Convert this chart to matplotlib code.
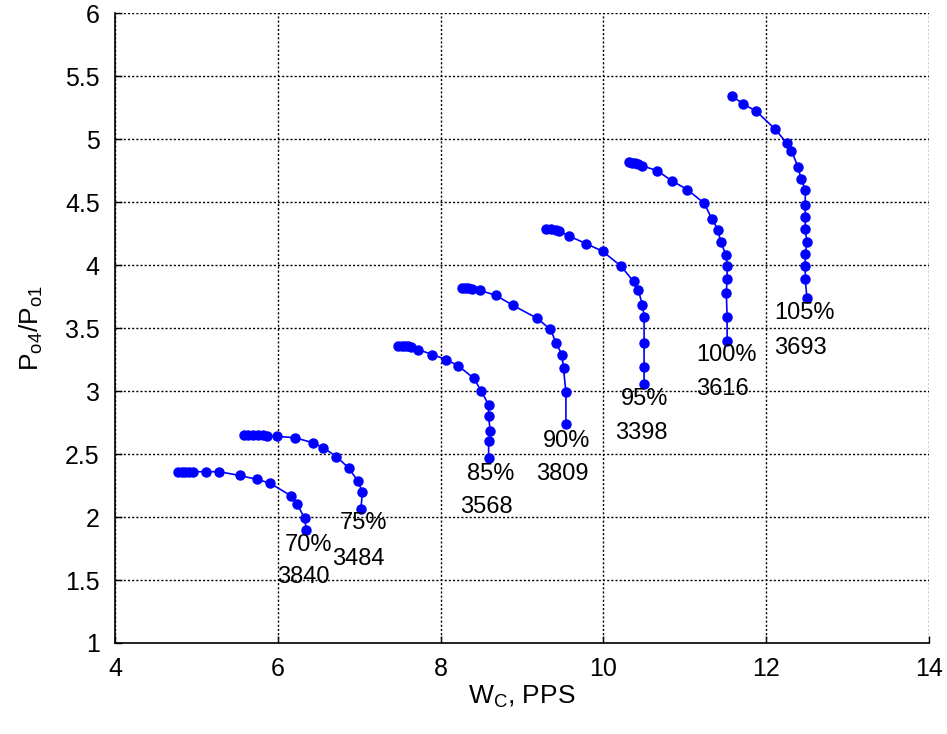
import matplotlib
matplotlib.use('Agg')
import matplotlib.pyplot as plt

plt.rcParams['font.family'] = ['Liberation Sans', 'DejaVu Sans']
plt.rcParams['mathtext.fontset'] = 'custom'
plt.rcParams['mathtext.rm'] = 'Liberation Sans'

# speed lines: corrected flow (W_C, PPS) vs total pressure ratio
w70 = [4.78, 4.82, 4.86, 4.91, 4.96, 5.12, 5.28, 5.53, 5.74, 5.90, 6.16, 6.24, 6.33, 6.35]
p70 = [2.36, 2.36, 2.36, 2.36, 2.36, 2.36, 2.36, 2.33, 2.30, 2.27, 2.17, 2.10, 1.99, 1.90]

w75 = [5.58, 5.64, 5.70, 5.76, 5.82, 5.87, 5.99, 6.21, 6.43, 6.56, 6.72, 6.87, 6.98, 7.04, 7.02]
p75 = [2.655, 2.655, 2.655, 2.655, 2.65, 2.645, 2.64, 2.63, 2.59, 2.55, 2.48, 2.39, 2.29, 2.20, 2.06]

w85 = [7.48, 7.52, 7.56, 7.60, 7.64, 7.72, 7.90, 8.07, 8.22, 8.41, 8.50, 8.59, 8.59, 8.61, 8.59, 8.59]
p85 = [3.355, 3.355, 3.355, 3.355, 3.35, 3.33, 3.29, 3.25, 3.20, 3.10, 3.00, 2.89, 2.80, 2.68, 2.60, 2.47]

w90 = [8.26, 8.30, 8.34, 8.38, 8.48, 8.68, 8.89, 9.18, 9.35, 9.42, 9.49, 9.51, 9.54, 9.54]
p90 = [3.815, 3.815, 3.815, 3.81, 3.80, 3.76, 3.68, 3.58, 3.49, 3.38, 3.29, 3.18, 2.99, 2.74]

w95 = [9.30, 9.36, 9.42, 9.46, 9.58, 9.79, 9.99, 10.22, 10.37, 10.43, 10.48, 10.50, 10.50, 10.50, 10.50]
p95 = [4.29, 4.29, 4.28, 4.27, 4.23, 4.17, 4.11, 3.99, 3.87, 3.80, 3.68, 3.59, 3.38, 3.19, 3.06]

w100 = [10.31, 10.35, 10.39, 10.43, 10.47, 10.66, 10.84, 11.03, 11.24, 11.33, 11.41, 11.44,
        11.51, 11.52, 11.52, 11.51, 11.52, 11.52]
p100 = [4.82, 4.81, 4.81, 4.80, 4.79, 4.75, 4.67, 4.60, 4.49, 4.37, 4.28, 4.18,
        4.08, 3.99, 3.89, 3.78, 3.59, 3.40]

w105 = [11.58, 11.72, 11.88, 12.11, 12.25, 12.31, 12.39, 12.43, 12.48, 12.48, 12.48, 12.48,
        12.50, 12.48, 12.48, 12.48, 12.50]
p105 = [5.34, 5.28, 5.22, 5.08, 4.97, 4.91, 4.78, 4.68, 4.60, 4.48, 4.38, 4.29,
        4.18, 4.09, 3.99, 3.89, 3.74]

speed_labels = ['70%', '75%', '85%', '90%', '95%', '100%', '105%']
rpm_labels = ['3840', '3484', '3568', '3809', '3398', '3616', '3693']

# where the two annotations of each line sit (centre of text)
pct_pos = [(6.38, 1.78), (7.05, 1.95), (8.62, 2.34), (9.55, 2.60),
           (10.51, 2.94), (11.51, 3.29), (12.47, 3.62)]
rpm_pos = [(6.31, 1.52), (6.99, 1.67), (8.56, 2.08), (9.49, 2.34),
           (10.46, 2.67), (11.46, 3.02), (12.42, 3.34)]

lines = [(w70, p70), (w75, p75), (w85, p85), (w90, p90),
         (w95, p95), (w100, p100), (w105, p105)]

fig = plt.figure(figsize=(9.47, 7.34), dpi=100)
ax = fig.add_axes([0.1214, 0.124, 0.8596, 0.858])

for w, p in lines:
    ax.plot(w, p, '-o', color='#0000ff', lw=1.2, ms=6.5, mec='#0000ff', zorder=3)

for lab, pos in zip(speed_labels, pct_pos):
    ax.text(pos[0], pos[1], lab, fontsize=17, ha='center', va='center')
for lab, pos in zip(rpm_labels, rpm_pos):
    ax.text(pos[0], pos[1], lab, fontsize=17, ha='center', va='center')

ax.set_xlim(4, 14)
ax.set_ylim(1, 6)
ax.set_xticks([4, 6, 8, 10, 12, 14])
ax.set_yticks([1, 1.5, 2, 2.5, 3, 3.5, 4, 4.5, 5, 5.5, 6])
ax.set_yticklabels(['1', '1.5', '2', '2.5', '3', '3.5', '4', '4.5', '5', '5.5', '6'])
ax.grid(True, color='black', linestyle=(0, (1.5, 1.5)), linewidth=1.0)
ax.set_axisbelow(True)
ax.spines['top'].set_visible(False)
ax.spines['right'].set_visible(False)
ax.spines['left'].set_linewidth(1.2)
ax.spines['bottom'].set_linewidth(1.2)
ax.tick_params(direction='in', length=5, width=1, labelsize=18)
ax.tick_params(axis='y', pad=11)
ax.tick_params(axis='x', pad=10)

ax.set_xlabel(r'W$_\mathregular{C}$, PPS', fontsize=19, labelpad=2)
ax.set_ylabel(r'P$_\mathregular{o4}$/P$_\mathregular{o1}$', fontsize=19, labelpad=14)

fig.savefig('out.png', dpi=100)
